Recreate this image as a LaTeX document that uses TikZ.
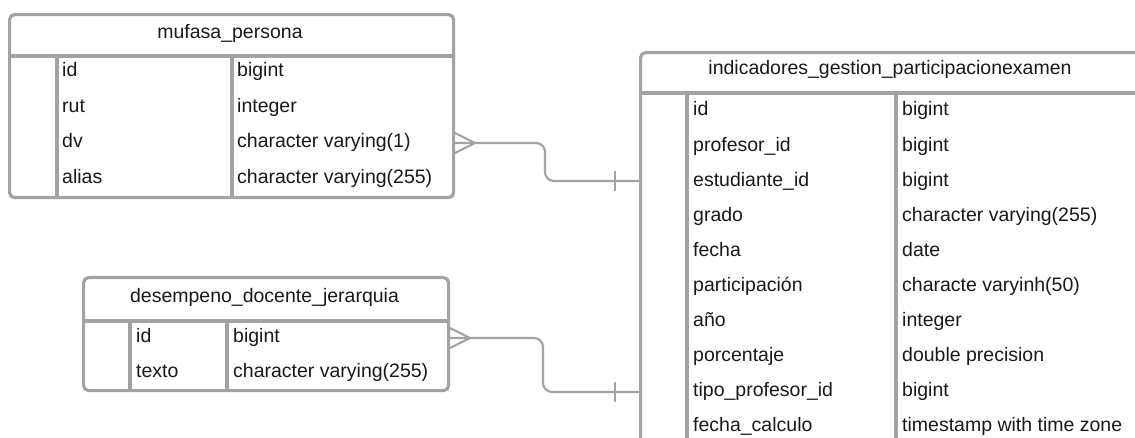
\documentclass[tikz,border=0pt]{standalone}
\usepackage{fontspec}
\setmainfont{Liberation Sans}

\definecolor{linegray}{RGB}{163,163,163}
\definecolor{inkgray}{RGB}{25,25,25}

\begin{document}
\begin{tikzpicture}[x=1pt,y=-1pt,
  tbl/.style={draw=linegray,line width=3.2pt,rounded corners=5pt,inner sep=0pt,anchor=north west},
  sep/.style={draw=linegray,line width=3.2pt},
  lnk/.style={draw=linegray,line width=2.2pt,rounded corners=9pt},
  crow/.style={draw=linegray,line width=2.2pt,sharp corners},
  txt/.style={anchor=base west,inner sep=0pt,text=inkgray,font=\fontsize{19.5}{22}\selectfont},
  ttl/.style={txt,anchor=base}]
\clip (0,0) rectangle (1135,438);

% mufasa_persona
\node[tbl,minimum width=444pt,minimum height=183pt] (persona) at (8,13) {};
\node[ttl] (persona-t) at (230,38.5) {mufasa\_persona};
\draw[sep] (8,56) -- (452,56) (57,56) -- (57,196) (232,56) -- (232,196);
\foreach \n/\t [count=\i from 0] in {id/bigint,rut/integer,dv/character varying(1),alias/character varying(255)}
{
  \node[txt] (persona-n\i) at (62,77+35.5*\i) {\n};
  \node[txt] (persona-t\i) at (237,77+35.5*\i) {\t};
}

% desempeno_docente_jerarquia
\node[tbl,minimum width=365pt,minimum height=113pt] (jerarquia) at (82,276) {};
\node[ttl] (jerarquia-t) at (264.5,303) {desempeno\_docente\_jerarquia};
\draw[sep] (82,321) -- (447,321) (130,321) -- (130,389) (227,321) -- (227,389);
\foreach \n/\t [count=\i from 0] in {id/bigint,texto/character varying(255)}
{
  \node[txt] (jerarquia-n\i) at (136,342+35*\i) {\n};
  \node[txt] (jerarquia-t\i) at (233,342+35*\i) {\t};
}

% indicadores_gestion_participacionexamen
\node[tbl,minimum width=502pt,minimum height=460pt] (examen) at (639,51) {};
\node[ttl] (examen-t) at (890,75) {indicadores\_gestion\_participacionexamen};
\draw[sep] (639,93) -- (1141,93) (687,93) -- (687,460) (896,93) -- (896,460);
\foreach \n/\t [count=\i from 0] in {id/bigint,profesor\_id/bigint,estudiante\_id/bigint,
  grado/character varying(255),fecha/date,participación/characte varyinh(50),año/integer,
  porcentaje/double precision,tipo\_profesor\_id/bigint,fecha\_calculo/timestamp with time zone}
{
  \node[txt] (examen-n\i) at (693,116+35.1*\i) {\n};
  \node[txt] (examen-t\i) at (902,116+35.1*\i) {\t};
}

% links
\coordinate (persona-fk) at (452,143);
\coordinate (examen-prof) at (639,181);
\draw[lnk] (persona-fk) -| (545,160) |- (examen-prof);
\draw[crow] (persona-fk) ++(1,-11) -- ++(22,11) -- ++(-22,11);
\draw[crow] (examen-prof) ++(-24,-10) -- ++(0,20);

\coordinate (jerarquia-fk) at (447,338);
\coordinate (examen-tipo) at (639,392);
\draw[lnk] (jerarquia-fk) -| (543,360) |- (examen-tipo);
\draw[crow] (jerarquia-fk) ++(1,-11) -- ++(22,11) -- ++(-22,11);
\draw[crow] (examen-tipo) ++(-24,-10) -- ++(0,20);
\end{tikzpicture}
\end{document}
